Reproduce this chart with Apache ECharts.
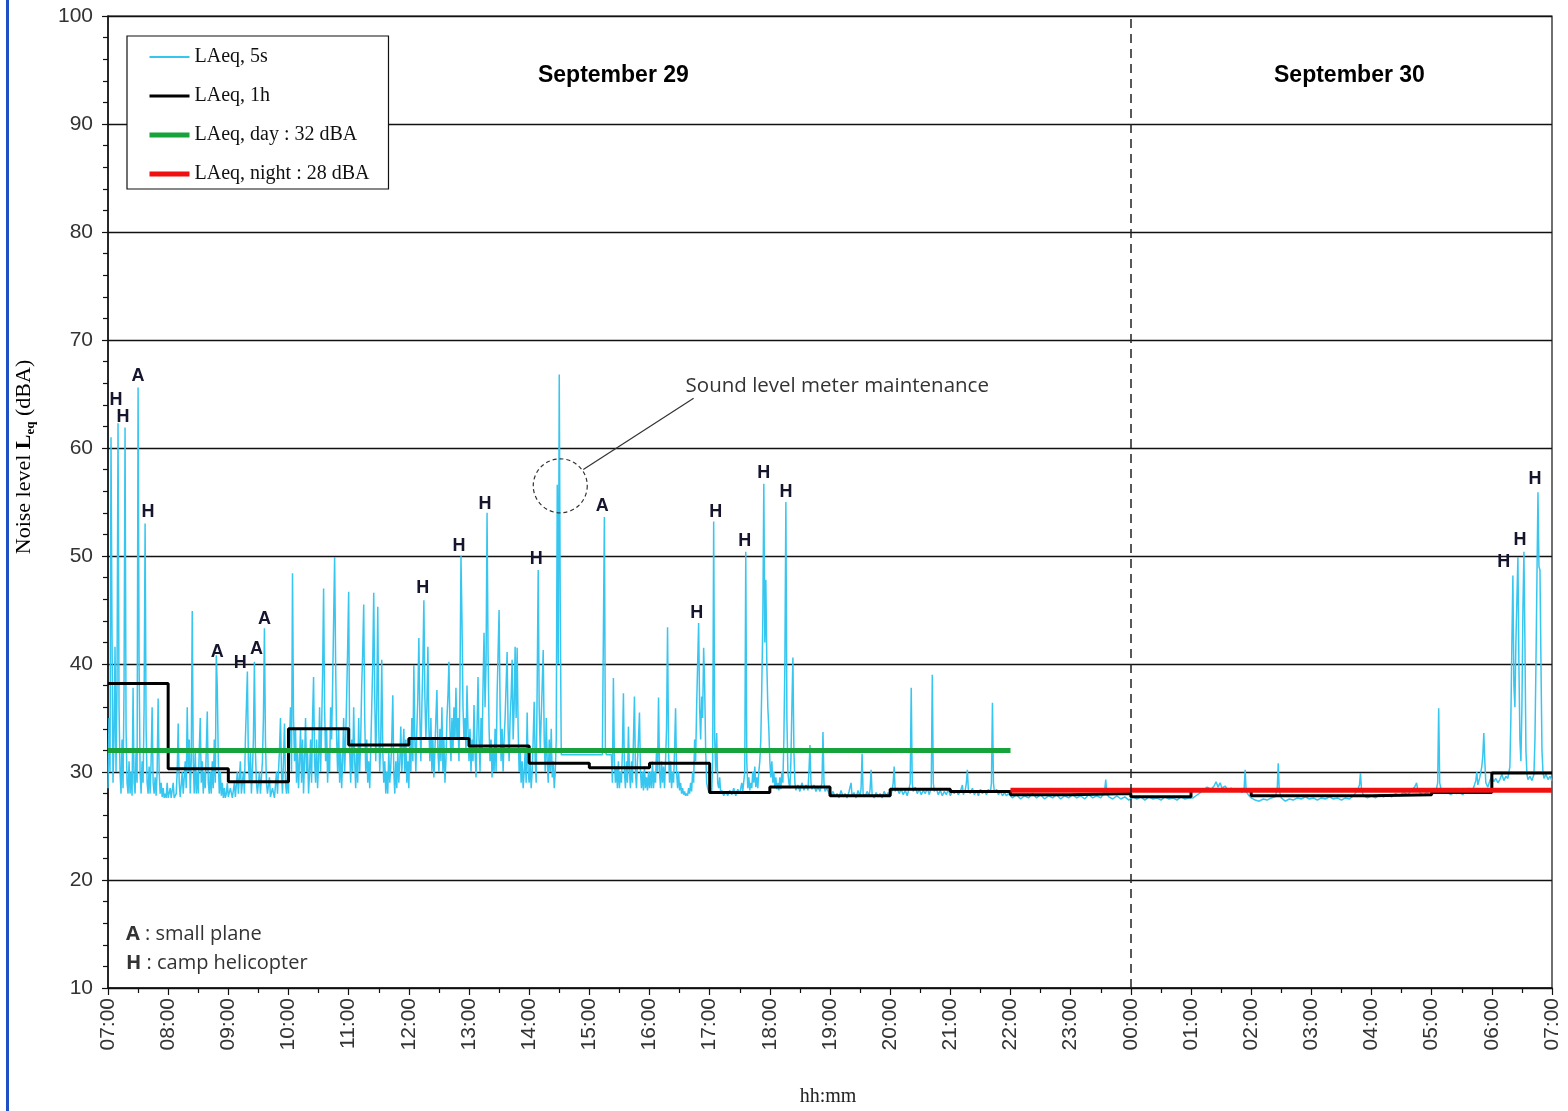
<!DOCTYPE html>
<html>
<head>
<meta charset="utf-8">
<script src="https://cdn.jsdelivr.net/npm/echarts@6/dist/echarts.min.js"></script>
<style>html,body{margin:0;padding:0;background:#fff}#c{width:1568px;height:1111px}</style>
</head>
<body>
<div id="c"></div>
<script>
// x values: minutes since 07:00 on September 29 (0..1440)
const laeq5s = [
[0,28.5],[1,35],[2,30],[3,61],[4,42.8],[5,29],[6,33],[7,41.6],[8,30],[9,38],[10,62.3],[11,36],[12,30],[13,28],[14,33],[15,28.5],[16,38],[17,61.9],[18,34],[19,29],[20,28],[21,31],[22,28],[23,30],[24,27.8],[25,37.8],[26,29],[27,28],[28,32],[29,29],[30,65.6],[31,40],[32,30],[33,28],[34,31],[35,29],[36,36],[37,53],[38,34],[39,29],[40,28],[41,30.5],[42,28],[43,31],[44,36],[45,29],[46,28],[47,29.5],[48,27.8],[49,30],[50,36.8],[51,30],[52,28],[53,29],[54,27.7],[55,28.5],[56,27.6],[57,28],[58,27.6],[59,29],
[60,27.6],[62,28.5],[63,27.6],[65,29],[66,27.6],[68,28],[69,30],[70,34.5],[71,29],[72,27.7],[74,30],[75,28],[77,31],[78,28.5],[79,36],[80,30],[81,33],[82,28],[83,31],[84,44.9],[85,31],[86,28],[87,32],[88,28],[89,30],[90,28],[91,32],[92,35],[93,29],[94,31],[95,28],[96,30],[97,28.5],[98,32],[99,35.6],[100,29],[101,28],[102,30],[103,28],[104,31],[105,28.5],[106,33],[107,29],[108,40.8],[109,37.8],[110,31],[111,28],[112,30],[113,27.8],[114,29],[115,27.6],[116,28.5],[117,27.6],[118,28],[119,29],
[120,27.7],[122,28.5],[124,27.6],[126,29],[127,27.7],[129,30],[130,28],[132,31],[133,28],[135,30],[136,28],[137,33],[138,36],[139,39.3],[140,31],[141,29],[142,32],[143,28],[144,30],[145,33],[146,40.2],[147,32],[148,29],[149,28],[151,30],[152,28],[154,31],[155,35],[156,43.3],[157,33],[158,29],[159,28],[161,29.5],[162,27.7],[164,28.5],[166,27.6],[168,30],[169,28],[171,32],[172,35],[173,30],[174,28],[175,31],[176,34.5],[177,29],[178,28],[179,30],
[180,28],[181,33],[182,36],[183,30],[184,48.4],[185,35],[186,31],[187,34],[188,29],[189,32],[190,28.5],[191,31],[192,34],[193,29],[194,33],[195,28],[196,31],[197,35],[198,30],[199,32],[200,28],[201,30],[202,33],[203,29],[204,35],[205,38.8],[206,31],[207,29],[208,33],[209,28.5],[210,31],[211,36],[212,30],[213,34],[214,39],[215,47],[216,36],[217,31],[218,34],[219,29],[220,32],[221,30],[222,36],[223,33],[224,38],[225,44],[226,49.9],[227,40],[228,33],[229,30],[230,34],[231,29],[232,32],[233,28.5],[234,31],[235,35],[236,30],[237,33],[238,37],[239,41.5],[240,46.7],
[241,32],[242,29],[243,33],[244,30],[245,36],[246,31],[247,28.5],[248,32],[249,29],[250,35],[251,30],[252,33],[253,38],[254,41],[255,45.5],[256,35],[257,30],[258,33],[259,29],[260,31],[261,28.5],[262,32],[263,36],[264,40],[265,46.6],[266,37],[267,31],[268,36],[269,45.3],[270,34],[271,30],[272,33],[273,40.4],[274,32],[275,29],[276,31],[277,28],[278,30],[279,28],[280,32],[281,29],[282,30.5],[283,33],[284,37.1],[285,30],[286,28],[287,31],[288,28.5],[289,32],[290,29],[291,31],[292,34.2],[293,30],[294,32],[295,34],[296,30],[297,33],[298,29],[299,31],[300,28.5],
[301,33],[302,30],[303,35],[304,31],[305,39.9],[306,33],[307,30],[308,34],[309,37],[310,42.4],[311,35],[312,31],[313,36],[314,40],[315,45.9],[316,37],[317,33],[318,36],[319,41.6],[320,34],[321,31],[322,35],[323,30],[324,33],[325,29.5],[326,32],[327,35],[328,37.6],[329,32],[330,30],[331,34],[332,31],[333,36],[334,30],[335,33],[336,29],[337,31],[338,35],[339,37],[340,40.2],[341,34],[342,31],[343,35],[344,32],[345,36],[346,33],[347,37.8],[348,33],[349,35],[350,31],[351,38],[352,50],[353,44],[354,36],[355,33],[356,35],[357,32],[358,38],[359,34],[360,31],
[361,34],[362,30],[363,33],[364,31],[365,36.2],[366,32],[367,29.5],[368,34],[369,38.8],[370,33],[371,30],[372,35],[373,32],[374,38],[375,42.9],[376,36],[377,40],[378,54],[379,41],[380,34],[381,31],[382,33],[383,29.5],[384,32],[385,30],[386,34],[387,30],[388,37],[389,41],[390,45],[391,36],[392,31],[393,34],[394,30],[395,33],[396,35],[397,38],[398,41.1],[399,34],[400,31],[401,35],[402,37],[403,40.4],[404,33],[405,36],[406,41.6],[407,35],[408,41.5],[409,34],[410,30],[411,32],[412,29],[413,31],[414,28.5],[415,30],[416,32],[417,29],[418,35.5],[419,30],[420,29],
[421,31],[422,28.5],[423,30],[424,33],[425,36.5],[426,31],[427,29],[428,38],[429,48.7],[430,36],[431,32],[432,35],[433,38],[434,41.3],[435,33],[436,30],[437,35],[438,31],[439,29],[440,33],[441,30],[442,34],[443,29.5],[444,31],[445,28.5],[446,30],[447,33],[448,56.6],[449,40],[450,66.8],[451,45],[452,31.6],
[493,31.6],[494,31.5],[495,53.6],[496,32],[497,31.6],[502,31.6],[503,29],
[504,38.7],[505,31],[506,29],[507,30.5],[508,28.5],[509,31],[510,28.5],[511,30],[512,29],[513,32],[514,37.3],[515,30],[516,28.5],[517,31],[518,29],[519,34.2],[520,30],[521,28.5],[522,31],[523,29],[524,33],[525,37],[526,30],[527,28.5],[528,31],[529,33],[530,35.5],[531,30],[532,28.5],[533,30],[534,28.3],[535,30.5],[536,28.5],[537,29.5],[538,28.3],[539,30],[540,28.5],
[541,30],[542,28.5],[543,31],[544,28.5],[545,30],[546,29],[547,32],[548,30],[549,36.9],[550,30],[551,28.5],[552,31],[553,29],[554,30.5],[555,28.5],[556,31],[557,34],[558,43.4],[559,32],[560,29],[561,31],[562,28.5],[563,30],[564,29],[565,32],[566,35.9],[567,30],[568,28.5],[569,30],[570,28.3],[571,29],[572,28],[573,28.5],[574,27.9],[575,28.2],[576,27.8],[577,28],[578,27.8],[579,28.5],[580,28],[581,29],[582,28.2],[583,30],[584,29],[585,33],[586,31],[587,36],[588,40],[589,43.8],[590,36],[591,33],[592,37],[593,35],[594,41.5],[595,38],[596,32],[597,29],[598,28.5],[599,28.2],[600,28],
[601,28.5],[602,28],[603,31],[604,53.2],[605,33],[606,30],[607,33.6],[608,29],[609,28.5],[610,29.5],[611,28],[612,28.3],[614,27.8],[616,28.2],[618,27.8],[620,28.3],[622,27.9],[624,28.5],[626,27.8],[628,28.4],[630,28],[632,29],[633,28.2],[635,30],[636,50.4],[637,31],[638,28.5],[639,29.5],[640,28.3],[641,29],[642,28.5],[643,30],[644,29],[645,30.5],[646,28.6],[647,29.5],[648,28.5],[649,30],[650,31],[651,33],[652,38],[653,44],[654,56.7],[655,42],[656,47.8],[657,40],[658,36],[659,34],[660,31],[661,29.5],[662,31],[663,29],[664,30],[665,28.5],[666,29.5],[667,28.4],[668,29],[669,28.3],[670,29.5],[671,28.4],[672,30],[673,29],[674,33],[675,40],[676,55],[677,35],[678,30],[679,29],[680,28.5],[681,31],[682,36],[683,40.6],[684,32],[685,29],[686,28.3],[688,28.8],[690,28.2],[692,29],[694,28.3],[696,28.8],[698,28.3],[699,30],[700,32.5],[701,29],[702,28.4],[704,28.8],[706,28.2],[708,28.6],[710,28.2],[712,29],[713,33.7],[714,29],[715,28.2],[717,28.5],[719,28],[720,28.3],
[721,27.8],[723,28.2],[725,27.7],[727,28],[729,27.6],[731,28.3],[733,27.7],[735,28],[737,27.6],[739,28.2],[741,29],[742,27.8],[744,28.1],[746,27.6],[748,28.3],[750,27.7],[751,28.5],[752,31.7],[753,28],[755,27.7],[757,28.2],[759,27.8],[760,28.4],[761,30.2],[762,27.9],[764,27.6],[766,28.1],[768,27.7],[770,28],[772,27.6],[774,28.2],[776,27.8],[778,28.1],[780,27.7],[782,28.3],[783,29],[784,30.5],[785,28.2],[787,28.5],[789,28],[791,28.4],[793,27.9],[795,28.3],[797,27.8],[799,28.5],[800,29],[801,37.8],[802,29],[803,28.2],[805,28.6],[807,28],[809,28.4],[811,27.9],[813,28.3],[815,28],[817,28.5],[819,27.9],[821,28.6],[822,39],[823,29],[824,28.2],[826,28.5],[828,27.9],[830,28.3],[832,27.8],[834,28.2],[836,27.9],[838,28.4],[840,27.8],[842,28.2],[844,28],[846,28.3],[848,27.9],[850,28.2],[852,28.8],[853,27.9],[855,28.4],[856,29],[857,30.2],[858,28.3],[860,28],[862,28.5],[864,27.9],[866,28.3],[868,27.8],[870,28.4],[872,28],[874,28.3],[876,27.9],[878,28.4],[880,28.1],[881,29],[882,36.4],[883,29],[884,28.1],[886,28.4],[888,27.9],[890,28.2],[892,27.8],[894,28.1],[896,27.8],[898,28],[900,27.8],
[902,27.6],[906,27.9],[910,27.5],[914,27.8],[918,27.6],[922,28],[926,27.6],[930,27.9],[934,27.5],[938,27.8],[942,27.6],[946,27.9],[950,27.5],[954,27.8],[958,27.6],[962,27.9],[966,27.6],[970,27.8],[974,27.5],[978,27.9],[982,27.6],[986,27.8],[990,27.6],[993,28],[994,28.4],[995,29.3],[996,28],[998,27.7],[1002,27.5],[1006,27.8],[1010,27.5],[1014,27.7],[1018,27.4],[1022,27.7],[1026,27.5],[1030,27.7],[1034,27.4],[1038,27.7],[1042,27.5],[1046,27.6],[1050,27.4],[1054,27.7],[1058,27.5],[1062,27.6],[1066,27.4],[1070,27.7],[1074,27.5],[1078,27.6],[1082,27.6],[1085,27.8],[1088,28],[1092,28.3],[1096,28.6],[1100,28.4],[1103,28.7],[1105,29.1],[1107,28.6],[1109,29],[1111,28.5],[1114,28.7],[1117,28.3],[1120,28.5],[1124,28.2],[1128,28.4],[1131,28.1],[1133,28.5],[1134,30.2],[1135,28.2],[1137,27.9],[1140,27.6],[1144,27.4],[1148,27.3],[1152,27.5],[1156,27.4],[1160,27.6],[1164,27.7],[1166,28.4],[1167,30.8],[1168,28.3],[1170,27.6],[1174,27.3],[1178,27.5],[1182,27.4],[1186,27.6],[1190,27.5],[1194,27.7],[1198,27.5],[1202,27.6],[1206,27.4],[1210,27.6],[1214,27.5],[1218,27.7],[1222,27.5],[1226,27.6],[1230,27.4],[1234,27.6],[1238,27.5],[1242,27.8],[1246,28.3],[1248,28.8],[1249,29.9],[1250,28.4],[1252,27.8],[1256,27.6],[1260,27.8],[1264,27.6],[1268,27.9],[1272,27.7],[1276,27.9],[1280,27.7],[1284,28],[1288,27.8],[1292,28.1],[1296,27.9],[1300,28.3],[1303,28.6],[1305,29],[1306,28.4],[1309,28],[1312,27.9],[1315,28.1],[1318,27.9],[1321,28.2],[1324,28.1],[1326,29],[1327,35.9],[1328,29],[1330,28.1],[1333,28],[1336,28.1],[1339,27.9],[1342,28.1],[1345,28],[1348,28.1],[1351,27.9],[1354,28.2],[1357,28.5],[1360,28.1],[1362,28.6],[1364,29.2],[1365,30],[1366,28.8],[1368,29.5],[1370,30.5],[1371,31.5],[1372,33.6],[1373,31],[1374,29],[1376,28.6],[1378,29.2],[1380,29.6],[1382,29.1],[1384,29.4],[1386,29],[1388,29.3],[1390,29.8],[1392,29.2],[1394,29.6],[1396,29.4],[1398,30.5],[1399,35],[1400,42],[1401,48.2],[1402,38],[1403,36],[1404,42],[1405,46],[1406,49.9],[1407,40],[1408,33],[1409,31],[1410,36],[1411,45],[1412,50.4],[1413,42],[1414,32],[1415,29.8],[1416,29.3],[1418,29.6],[1420,29.2],[1422,29.8],[1423,33],[1424,40],[1425,48],[1426,55.9],[1427,49],[1428,48.7],[1429,40],[1430,32],[1431,30],[1432,29.4],[1434,29.8],[1436,29.3],[1438,29.6],[1440,29.2]
];

// hourly LAeq, one value per hour starting at 07:00
const hourStarts = [0,60,120,180,240,300,360,420,480,540,600,660,720,780,840,900,960,1020,1080,1140,1200,1260,1320,1380];
const laeq1h = [38.2,30.3,29.1,34.0,32.5,33.1,32.4,30.8,30.4,30.8,28.1,28.6,27.8,28.4,28.2,27.9,28.0,27.7,28.3,27.8,27.8,27.9,28.1,29.9];

const dayPeriod = [0, 900];      // 07:00 - 22:00
const dayLevel = 32;
const nightPeriod = [900, 1440]; // 22:00 - 07:00
const nightLevel = 28.3;
const midnight = 1020;

const eventLabels = [
[8,64.4,'H'],[15,62.9,'H'],[30,66.7,'A'],[40,54.1,'H'],[109,41.1,'A'],[132,40.1,'H'],[148,41.4,'A'],[156,44.2,'A'],
[314,47.0,'H'],[350,50.9,'H'],[376,54.8,'H'],[427,49.7,'H'],[493,54.6,'A'],[587,44.7,'H'],[606,54.1,'H'],[635,51.4,'H'],
[654,57.7,'H'],[676,55.9,'H'],[1392,49.4,'H'],[1408,51.5,'H'],[1423,57.1,'H']
];
const dayNames = [[504,94.5,'September 29'],[1238,94.5,'September 30']];
const yTicks = [10,20,30,40,50,60,70,80,90,100];
const legendNames = ['LAeq, 5s','LAeq, 1h','LAeq, day : 32 dBA','LAeq, night : 28 dBA'];

const hourData = hourStarts.map((t,i)=>[t, laeq1h[i]]).concat([[1440, laeq1h[laeq1h.length-1]]]);

function hhmm(v){
  const h = (7 + Math.round(v/60)) % 24;
  return String(h).padStart(2,'0') + ':00';
}

const noSymbol = {color:'rgba(0,0,0,0)', borderWidth:0};
const legendWidths = [2, 3, 5, 5];

const chart = echarts.init(document.getElementById('c'), null, {renderer:'canvas'});
const option = {
  animation:false,
  backgroundColor:'#fff',
  grid:{left:108, right:16, top:16, bottom:123, show:true, borderColor:'#111', borderWidth:1.2, backgroundColor:'transparent'},
  legend:{
    orient:'vertical', left:127, top:36,
    data:legendNames.map((n,i)=>({name:n, lineStyle:{width:legendWidths[i]}})),
    backgroundColor:'#fff', borderColor:'#111', borderWidth:1.2, borderRadius:0,
    padding:[11,19,5,20], itemWidth:40, itemHeight:14, itemGap:19,
    itemStyle:{opacity:0},
    textStyle:{fontFamily:'Liberation Serif', fontSize:20, lineHeight:20, color:'#111'},
    selectedMode:false
  },
  xAxis:{
    type:'value', min:0, max:1440, interval:60,
    axisLine:{show:true, lineStyle:{color:'#111', width:1.5}},
    axisTick:{show:true, length:7, lineStyle:{color:'#111', width:1.2}},
    minorTick:{show:true, splitNumber:2, length:5, lineStyle:{color:'#111', width:1.2}},
    splitLine:{show:false},
    axisLabel:{rotate:90, formatter:hhmm, fontFamily:'Liberation Sans', fontSize:21, color:'#333', margin:10, showMaxLabel:true, showMinLabel:true}
  },
  yAxis:{
    type:'value', min:10, max:100, interval:10,
    axisLine:{show:true, lineStyle:{color:'#111', width:1.5}},
    axisTick:{show:true, length:6, lineStyle:{color:'#111', width:1.2}},
    minorTick:{show:true, splitNumber:5, length:5, lineStyle:{color:'#111', width:1.2}},
    splitLine:{show:true, lineStyle:{color:'#111', width:1.3}},
    axisLabel:{fontFamily:'Liberation Sans', fontSize:21, color:'#333', margin:15,
      formatter:v=> yTicks.includes(v) ? String(v) : ''}
  },
  series:[
    {name:legendNames[0], type:'line', data:laeq5s, symbol:'none', z:2,
     lineStyle:{color:'#36c6f0', width:1.5}, itemStyle:noSymbol},
    {name:legendNames[1], type:'line', data:hourData, step:'end', symbol:'none', z:3,
     lineStyle:{color:'#000', width:3}, itemStyle:noSymbol},
    {name:legendNames[2], type:'line', data:[[dayPeriod[0],dayLevel],[dayPeriod[1],dayLevel]], symbol:'none', z:4,
     lineStyle:{color:'#17a33b', width:5}, itemStyle:noSymbol},
    {name:legendNames[3], type:'line', data:[[nightPeriod[0],nightLevel],[nightPeriod[1],nightLevel]], symbol:'none', z:4,
     lineStyle:{color:'#f01010', width:5}, itemStyle:noSymbol,
     markLine:{silent:true, symbol:'none', label:{show:false},
       lineStyle:{color:'#222', width:1.5, type:[9,6]}, data:[{xAxis:midnight}]}},
    {name:'events', type:'scatter', data:eventLabels, symbolSize:0, z:6, silent:true,
     itemStyle:{opacity:1},
     label:{show:true, position:'inside', formatter:p=>p.data[2], fontFamily:'Liberation Sans', fontWeight:'bold', fontSize:18, color:'#15152e', opacity:1},
     markPoint:{silent:true, data:[
       {coord:[451,56.5], symbol:'circle', symbolSize:54, itemStyle:{color:'rgba(0,0,0,0)', borderColor:'#333', borderWidth:1.2, borderType:[4,3]}, label:{show:false}},
       {coord:[576,65.7], symbol:'circle', symbolSize:0, label:{show:true, position:'right', distance:0, formatter:'Sound level meter maintenance', fontFamily:'Open Sans', fontSize:20.5, color:'#333'}}
     ]},
     markLine:{silent:true, symbol:'none', label:{show:false}, lineStyle:{color:'#333', width:1.2, type:'solid'},
       data:[[{coord:[474,58]},{coord:[584,64.6]}]]}},
    {name:'days', type:'scatter', data:dayNames, symbolSize:0, z:6, silent:true,
     itemStyle:{opacity:1},
     label:{show:true, position:'inside', formatter:p=>p.data[2], fontFamily:'Liberation Sans', fontWeight:'bold', fontSize:23, color:'#000', opacity:1}}
  ],
  graphic:[
    {type:'rect', shape:{x:6, y:0, width:3, height:1111}, style:{fill:'#1f4fc4'}, silent:true},
    {type:'text', x:24, y:457, rotation:Math.PI/2, silent:true,
     style:{text:'{n|Noise level }{b|L}{s|eq}{n| (dBA)}', align:'center', verticalAlign:'middle',
       rich:{n:{fontFamily:'Liberation Serif', fontSize:22, color:'#222', lineHeight:26},
             b:{fontFamily:'Liberation Serif', fontSize:22, fontWeight:'bold', color:'#222', lineHeight:26},
             s:{fontFamily:'Liberation Serif', fontSize:13, fontWeight:'bold', color:'#222', lineHeight:26, verticalAlign:'bottom'}}}},
    {type:'text', x:828, y:1097, silent:true,
     style:{text:'hh:mm', align:'center', verticalAlign:'middle', fontFamily:'Liberation Serif', fontSize:20, fill:'#222'}},
    {type:'text', x:126, y:934, silent:true,
     style:{text:'{b|A} : small plane', verticalAlign:'middle', fontFamily:'Open Sans', fontSize:20, fill:'#333',
       rich:{b:{fontFamily:'Open Sans', fontSize:20, fontWeight:'bold', color:'#111'}}}},
    {type:'text', x:126, y:963, silent:true,
     style:{text:'{b|H} : camp helicopter', verticalAlign:'middle', fontFamily:'Open Sans', fontSize:20, fill:'#333',
       rich:{b:{fontFamily:'Open Sans', fontSize:20, fontWeight:'bold', color:'#111'}}}}
  ]
};
chart.setOption(option);
</script>
</body>
</html>
